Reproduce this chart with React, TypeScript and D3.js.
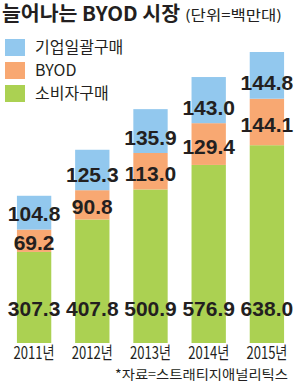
import React, { useEffect, useRef } from "react";
import * as d3 from "d3";

// categories and values (unit: million units)
const YEARS = ["2011년", "2012년", "2013년", "2014년", "2015년"];
const CONSUMER = [307.3, 407.8, 500.9, 576.9, 638.0];
const BYOD = [69.2, 90.8, 113.0, 129.4, 144.1];
const ENTERPRISE = [104.8, 125.3, 135.9, 143.0, 144.8];

// legend order (top to bottom)
const LEGEND = ["기업일괄구매", "BYOD", "소비자구매"];

const TITLE = "늘어나는 BYOD 시장";
const UNIT = "(단위=백만대)";
const SOURCE = "*자료=스트래티지애널리틱스";

const W = 300,
  H = 382;

const COLORS: Record<string, string> = {
  consumer: "#abd152",
  byod: "#f8a872",
  enterprise: "#92c8ee"
};

const NUM_FONT = "'Liberation Sans Narrow', 'Arial Narrow', sans-serif";
const KR_FONT = "'Noto Sans CJK KR', sans-serif";
const MIX_FONT = "'Liberation Sans Narrow', 'Noto Sans CJK KR', sans-serif";
const INK = "#231f20";

export default function App() {
  const ref = useRef<SVGSVGElement>(null);

  useEffect(() => {
    const svg = d3.select(ref.current);
    svg.selectAll("*").remove();

    const rows = YEARS.map((year, i) => ({
      year,
      consumer: CONSUMER[i],
      byod: BYOD[i],
      enterprise: ENTERPRISE[i]
    }));
    const keys = ["consumer", "byod", "enterprise"];
    const stacked = d3.stack<any>().keys(keys)(rows);

    const x = d3
      .scaleBand()
      .domain(YEARS)
      .range([5, 296])
      .paddingInner(0.41)
      .paddingOuter(0.205);

    // baseline is cut off (chart does not start at zero)
    const y = d3.scaleLinear().domain([25, 930]).range([343, 51]);
    const fmt = d3.format(".1f");

    svg.append("rect").attr("width", W).attr("height", H).attr("fill", "#fff");

    // bars
    const layer = svg
      .selectAll(".layer")
      .data(stacked)
      .enter()
      .append("g")
      .attr("class", "layer")
      .attr("fill", d => COLORS[d.key]);

    layer
      .selectAll("rect")
      .data(d => d)
      .enter()
      .append("rect")
      .attr("x", d => x(d.data.year)!)
      .attr("width", x.bandwidth())
      .attr("y", d => y(d[1]))
      .attr("height", d => y(Math.max(d[0], 25)) - y(d[1]));

    // value labels
    stacked.forEach(s => {
      svg
        .append("g")
        .selectAll("text")
        .data(s)
        .enter()
        .append("text")
        .attr("x", d => x(d.data.year)! + x.bandwidth() / 2)
        .attr("y", d => {
          if (s.key === "consumer") return y(25) - 35;
          if (s.key === "enterprise") return y(d[0]) - 16;
          return (y(d[0]) + y(d[1])) / 2 + 2;
        })
        .attr("dy", "0.36em")
        .attr("text-anchor", "middle")
        .attr("font-family", NUM_FONT)
        .attr("font-weight", "bold")
        .attr("font-size", 21)
        .attr("fill", INK)
        .text(d => fmt(d.data[s.key]));
    });

    // x axis labels
    svg
      .append("g")
      .selectAll("text")
      .data(YEARS)
      .enter()
      .append("text")
      .attr("x", d => x(d)! + x.bandwidth() / 2)
      .attr("y", 359)
      .attr("text-anchor", "middle")
      .attr("font-family", MIX_FONT)
      .attr("font-size", 17)
      .attr("textLength", 41)
      .attr("lengthAdjust", "spacingAndGlyphs")
      .attr("fill", INK)
      .text(d => d);

    // title
    svg
      .append("text")
      .attr("x", 2)
      .attr("y", 21)
      .attr("font-family", MIX_FONT)
      .attr("font-weight", "bold")
      .attr("font-size", 20)
      .attr("textLength", 178)
      .attr("lengthAdjust", "spacingAndGlyphs")
      .attr("fill", INK)
      .text(TITLE);

    svg
      .append("text")
      .attr("x", 185)
      .attr("y", 20)
      .attr("font-family", KR_FONT)
      .attr("font-size", 14)
      .attr("textLength", 97)
      .attr("lengthAdjust", "spacingAndGlyphs")
      .attr("fill", INK)
      .text(UNIT);

    // legend
    const legendColors = [COLORS.enterprise, COLORS.byod, COLORS.consumer];
    const lg = svg
      .append("g")
      .selectAll("g")
      .data(LEGEND)
      .enter()
      .append("g")
      .attr("transform", (_, i) => `translate(5, ${39 + i * 23})`);

    lg.append("rect")
      .attr("width", 20)
      .attr("height", 17)
      .attr("fill", (_, i) => legendColors[i]);

    lg.append("text")
      .attr("x", 30)
      .attr("y", 8.5)
      .attr("dy", "0.36em")
      .attr("font-family", KR_FONT)
      .attr("font-size", 16)
      .attr("fill", INK)
      .text(d => d);

    // source
    svg
      .append("text")
      .attr("x", 288)
      .attr("y", 379)
      .attr("text-anchor", "end")
      .attr("font-family", KR_FONT)
      .attr("font-size", 13)
      .attr("textLength", 173)
      .attr("lengthAdjust", "spacingAndGlyphs")
      .attr("fill", INK)
      .text(SOURCE);
  }, []);

  return (
    <svg
      ref={ref}
      width={W}
      height={H}
      style={{ position: "absolute", left: 0, top: 0, display: "block" }}
    />
  );
}
